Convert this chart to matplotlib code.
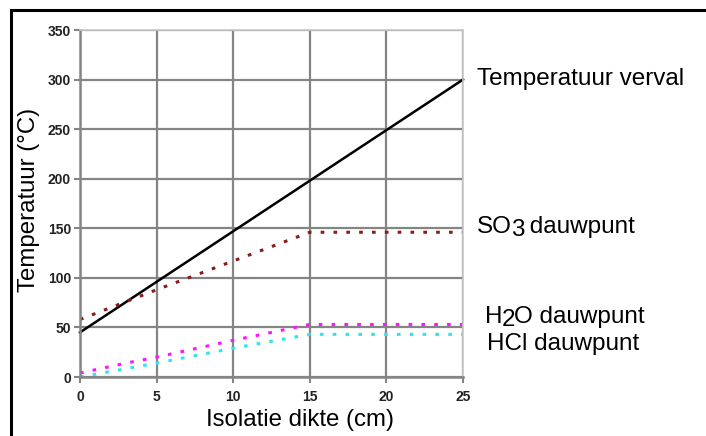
import matplotlib
matplotlib.use("Agg")
import matplotlib.pyplot as plt
from matplotlib.lines import Line2D

plt.rcParams['font.family'] = ['Liberation Sans', 'DejaVu Sans']

x_temp = [0, 25]
y_temp = [45, 300]

x_so3 = [0, 5, 10, 15, 25]
y_so3 = [58, 88, 117, 146, 146]

x_h2o = [0, 3, 5, 10, 15, 25]
y_h2o = [4, 14, 20, 37, 53, 53]

x_hcl = [0, 5, 10, 15, 25]
y_hcl = [0, 14, 29, 43, 43]

xticks = [0, 5, 10, 15, 20, 25]
yticks = [0, 50, 100, 150, 200, 250, 300, 350]

W, H = 706, 436
fig = plt.figure(figsize=(W/100, H/100), dpi=100)
ax = fig.add_axes([80/W, 59/H, 383/W, 347/H])

ax.set_xlim(0, 25)
ax.set_ylim(0, 350)
ax.set_xticks(xticks)
ax.set_yticks(yticks)
ax.grid(True, color='#858585', linewidth=1.6)
ax.set_axisbelow(True)
for s in ['left', 'bottom']:
    ax.spines[s].set_color('#858585')
    ax.spines[s].set_linewidth(1.8)
for s in ['top', 'right']:
    ax.spines[s].set_color('#c8c8c8')
    ax.spines[s].set_linewidth(1.2)
ax.tick_params(axis='both', direction='out', length=4, width=1.5, color='#858585',
               labelsize=10)
ax.tick_params(axis='y', pad=2.5)
ax.tick_params(axis='x', pad=5)
for lab in ax.get_xticklabels() + ax.get_yticklabels():
    lab.set_fontweight('bold')
    lab.set_color('#222222')

dot = (0, (1.2, 3.0))
ax.plot(x_temp, y_temp, color='black', linewidth=1.8, clip_on=False)
ax.plot(x_so3, y_so3, color='#8b1a1a', linewidth=2.2, linestyle=dot)
ax.plot(x_h2o, y_h2o, color='#ff14ff', linewidth=2.2, linestyle=dot)
ax.plot(x_hcl, y_hcl, color='#33e3ec', linewidth=2.2, linestyle=dot)

ax.set_xlabel('Isolatie dikte (cm)', fontsize=17.3)
ax.set_ylabel('Temperatuur (°C)', fontsize=17.3)
ax.xaxis.set_label_coords((300-80)/383, (377-409)/347)
ax.yaxis.set_label_coords((40-80)/383, (377-200)/347)

FS = 17.5
renderer = fig.canvas.get_renderer()

def label(px, py, parts):
    # parts: list of (text, lowered?) ; px, py in pixel coords from top-left (baseline)
    x = px
    for s, low in parts:
        y = py + (3 if low else 0)
        t = fig.text(x/W, 1 - y/H, s, fontsize=FS, va='baseline', ha='left')
        bb = t.get_window_extent(renderer=renderer)
        x = x + bb.width - 1

label(477, 85, [('Temperatuur verval', False)])
label(477, 233, [('SO', False), ('3', True), (' dauwpunt', False)])
label(485, 323, [('H', False), ('2', True), ('O dauwpunt', False)])
label(487, 350, [('HCl dauwpunt', False)])

fig.add_artist(Line2D([11/W, 1], [1 - 10/H, 1 - 10/H], color='black', linewidth=2.2,
                      transform=fig.transFigure))
fig.add_artist(Line2D([11/W, 11/W], [0, 1 - 10/H], color='black', linewidth=2.2,
                      transform=fig.transFigure))

fig.savefig('out.png', dpi=100)
